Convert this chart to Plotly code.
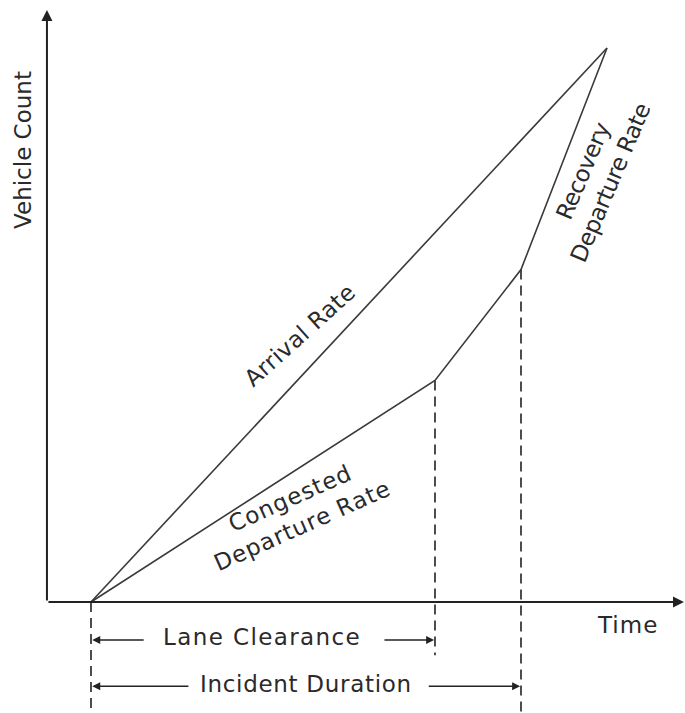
import plotly.graph_objects as go

# Event times (time units) and cumulative vehicle counts
t_start = 0
t_lane_clear = 40
t_incident_end = 50
t_end = 60

arrival_t = [t_start, t_end]
arrival_n = [0, 100]

departure_t = [t_start, t_lane_clear, t_incident_end, t_end]
departure_n = [0, 40, 60, 100]

# Axis extents
x_min, x_max = -10.58, 69.07
y_min, y_max = -20.04, 108.66
axis_x0 = -5.12
axis_top = 106.86
axis_right = 68.95

LINE = "#3a3a3a"
FONT = dict(family="DejaVu Sans, Arial, sans-serif", size=23, color="#2a2a2a")

fig = go.Figure()

fig.add_trace(go.Scatter(x=arrival_t, y=arrival_n, mode="lines",
                         line=dict(color=LINE, width=1.6), hoverinfo="skip"))
fig.add_trace(go.Scatter(x=departure_t, y=departure_n, mode="lines",
                         line=dict(color=LINE, width=1.6), hoverinfo="skip"))

# Dashed reference lines at event times
dash_bottoms = {t_start: y_min, t_lane_clear: -9.6, t_incident_end: y_min}
for t, n in zip(departure_t[:3], departure_n[:3]):
    fig.add_trace(go.Scatter(x=[t, t], y=[n, dash_bottoms[t]], mode="lines",
                             line=dict(color=LINE, width=1.8, dash="10px,6px"),
                             hoverinfo="skip"))

ann = []

def arrow(x0, y0, x1, y1, width=1.6, size=1.0):
    ann.append(dict(x=x1, y=y1, ax=x0, ay=y0, xref="x", yref="y",
                    axref="x", ayref="y", showarrow=True, arrowhead=2,
                    arrowsize=size, arrowwidth=width, arrowcolor="#222", text=""))

# Axes with arrowheads
arrow(axis_x0, 0, axis_x0, axis_top, width=2, size=1.1)
arrow(axis_x0, 0, axis_right, 0, width=2, size=1.1)

# Duration dimension arrows
lane_y, inc_y = -6.86, -15.2
arrow(6.3, lane_y, t_start + 0.15, lane_y)
arrow(33.95, lane_y, t_lane_clear - 0.1, lane_y)
arrow(11.5, inc_y, t_start + 0.15, inc_y)
arrow(39.1, inc_y, t_incident_end - 0.1, inc_y)

def label(lines, x, y, angle=0, spacing=0.0):
    parts = [f'<span style="letter-spacing:{spacing}px">{ln}</span>' if spacing else ln
             for ln in lines]
    ann.append(dict(x=x, y=y, xref="x", yref="y", text="<br>".join(parts),
                    showarrow=False, textangle=angle, font=FONT,
                    xanchor="center", yanchor="middle", align="center"))

label(["Vehicle Count"], -7.9, 81.6, -90)
label(["Time"], 62.4, -4.2, spacing=1.0)
label(["Lane Clearance"], 19.9, -6.3, spacing=1.4)
label(["Incident Duration"], 25.0, -14.8, spacing=0.7)
label(["Arrival Rate"], 24.3, 48.2, -42, spacing=0.4)
label(["Congested", "Departure Rate"], 23.84, 16.2, -24, spacing=1.0)
label(["Recovery", "Departure Rate"], 58.8, 76.7, -67, spacing=-0.5)

fig.update_layout(
    width=685, height=713,
    margin=dict(l=0, r=0, t=0, b=0),
    paper_bgcolor="white", plot_bgcolor="white",
    showlegend=False,
    xaxis=dict(range=[x_min, x_max], visible=False, fixedrange=True),
    yaxis=dict(range=[y_min, y_max], visible=False, fixedrange=True),
    annotations=ann,
)

fig.write_html("out.html")
